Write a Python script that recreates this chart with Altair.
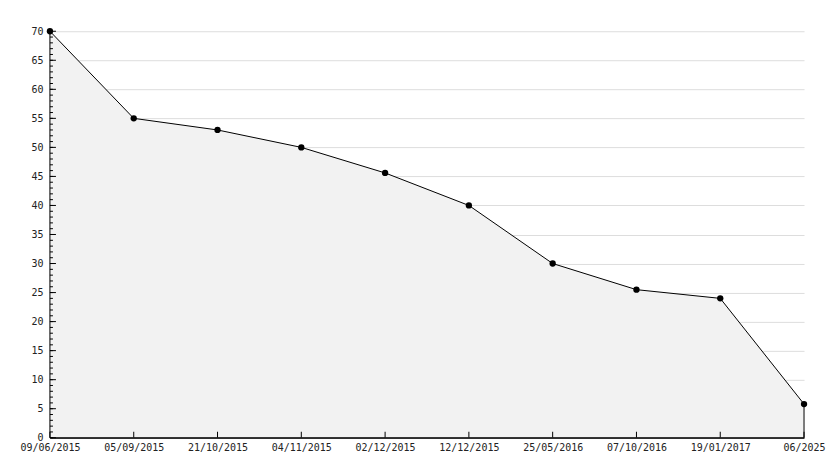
import altair as alt
import pandas as pd

dates = ["09/06/2015", "05/09/2015", "21/10/2015", "04/11/2015", "02/12/2015",
         "12/12/2015", "25/05/2016", "07/10/2016", "19/01/2017", "06/2025"]
values = [70, 55, 53, 50, 45.6, 40, 30, 25.5, 24, 5.8]
major_ticks = list(range(0, 75, 5))
minor_ticks = list(range(0, 71, 1))

W, H = 755, 407
FONT = "DejaVu Sans Mono"

df = pd.DataFrame({"date": dates, "value": values})
xscale = alt.Scale(type="point", padding=0, domain=dates)
yscale = alt.Scale(domain=[0, 70], nice=False, zero=True)

xaxis = alt.Axis(title=None, labelAngle=0, tickSize=0, labelPadding=5,
                 domainColor="black", labelFont=FONT, labelFontSize=10,
                 labelColor="#222222", grid=False, labelOverlap=False)
yaxis = alt.Axis(title=None, values=major_ticks, tickSize=0, labelPadding=7,
                 domainColor="black", labelFont=FONT, labelFontSize=10,
                 labelColor="#222222", grid=True, gridColor="#dddddd",
                 gridWidth=1, labelOverlap=False)

base = alt.Chart(df)

area = base.mark_area(fill="#f2f2f2", stroke="black", strokeWidth=1).encode(
    x=alt.X("date:N", scale=xscale, sort=dates, axis=xaxis),
    y=alt.Y("value:Q", scale=yscale, axis=yaxis),
)

pts = base.mark_point(filled=True, color="black", size=40, opacity=1, shape="circle").encode(
    x=alt.X("date:N", scale=xscale, sort=dates, axis=xaxis),
    y=alt.Y("value:Q", scale=yscale, axis=yaxis),
)

xt = alt.Chart(pd.DataFrame({"date": dates})).mark_rule(color="black", strokeWidth=1).encode(
    x=alt.X("date:N", scale=xscale, sort=dates, axis=xaxis),
    y=alt.value(H), y2=alt.value(H - 6),
)

ymaj = alt.Chart(pd.DataFrame({"t": major_ticks})).mark_rule(color="black", strokeWidth=1).encode(
    y=alt.Y("t:Q", scale=yscale, axis=yaxis), x=alt.value(0), x2=alt.value(6),
)
ymin = alt.Chart(pd.DataFrame({"t": minor_ticks})).mark_rule(color="black", strokeWidth=1).encode(
    y=alt.Y("t:Q", scale=yscale, axis=yaxis), x=alt.value(0), x2=alt.value(3),
)

chart = alt.layer(area, ymin, ymaj, xt, pts).properties(
    width=W, height=H,
    background="white",
    autosize=alt.AutoSizeParams(type="none"),
    padding={"left": 42, "top": 23, "right": 22, "bottom": 15},
).configure_view(stroke=None)

chart.save("out.html", embed_options={"renderer": "svg", "actions": False})
